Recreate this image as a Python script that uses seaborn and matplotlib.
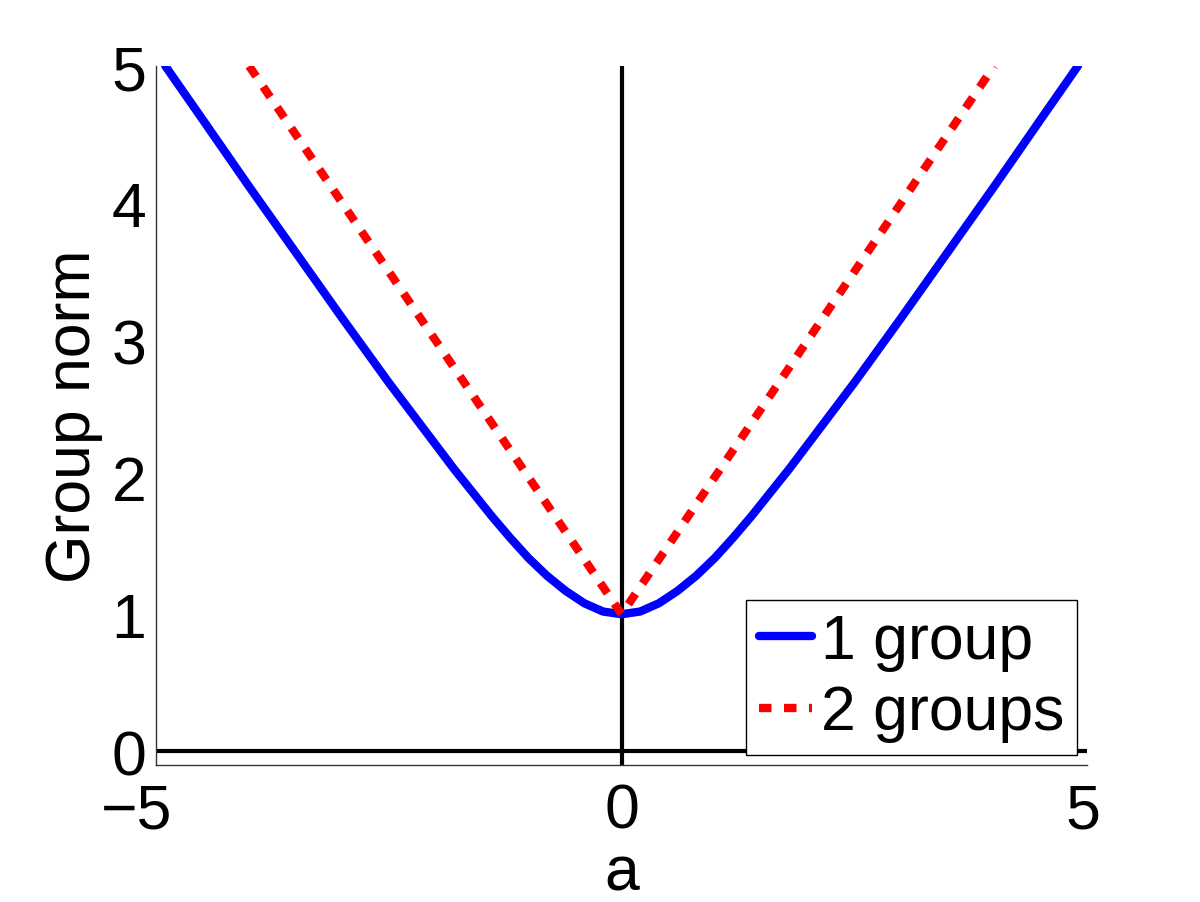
import numpy as np
import pandas as pd
import matplotlib
matplotlib.use('Agg')
import matplotlib.pyplot as plt
import matplotlib.transforms as mtransforms
import seaborn as sns

# values
a_one = [-4.9, -4.5, -4.0, -3.5, -3.0, -2.5, -2.0, -1.8, -1.6, -1.4, -1.2, -1.0, -0.8, -0.6, -0.4, -0.2, 0.0,
         0.2, 0.4, 0.6, 0.8, 1.0, 1.2, 1.4, 1.6, 1.8, 2.0, 2.5, 3.0, 3.5, 4.0, 4.5, 4.9]
norm_one = [5.0, 4.61, 4.12, 3.64, 3.16, 2.69, 2.24, 2.06, 1.89, 1.72, 1.56, 1.41, 1.28, 1.17, 1.08, 1.02, 1.0,
            1.02, 1.08, 1.17, 1.28, 1.41, 1.56, 1.72, 1.89, 2.06, 2.24, 2.69, 3.16, 3.64, 4.12, 4.61, 5.0]
a_two = [-4.0, 0.0, 4.0]
norm_two = [5.0, 1.0, 5.0]
series_names = ['1 group', '2 groups']

df1 = pd.DataFrame({'a': a_one, 'norm': norm_one})
df2 = pd.DataFrame({'a': a_two, 'norm': norm_two})

sns.set_style('white')
plt.rcParams['font.family'] = ['Liberation Sans', 'DejaVu Sans']
plt.rcParams['text.color'] = 'black'
plt.rcParams['axes.labelcolor'] = 'black'

fig = plt.figure(figsize=(12, 9.03), dpi=100)
ax = fig.add_axes([0.13, 0.1517, 0.776, 0.7741])

sns.lineplot(data=df1, x='a', y='norm', ax=ax, color='#0000ff', linewidth=6,
             label=series_names[0], sort=False, estimator=None)
sns.lineplot(data=df2, x='a', y='norm', ax=ax, color='#ff0000', linewidth=6,
             label=series_names[1], sort=False, estimator=None)
ax.lines[0].set_solid_joinstyle('round')
ax.lines[1].set_linestyle((0, (1.5, 1.5)))
ax.lines[1].set_dash_capstyle('butt')

ax.axhline(0, color='black', linewidth=3, zorder=1)
ax.axvline(0, color='black', linewidth=3, zorder=1)

ax.set_xlim(-5, 5)
ax.set_ylim(-0.1, 5)
ax.set_xticks([-5, 0, 5])
ax.set_xticklabels(['\u22125', '0', '5'])
ax.set_yticks([0, 1, 2, 3, 4, 5])

for s in ['top', 'right']:
    ax.spines[s].set_visible(False)
for s in ['left', 'bottom']:
    ax.spines[s].set_color('#333333')
    ax.spines[s].set_linewidth(1)

ax.tick_params(direction='in', length=7, width=1, labelsize=45, colors='black')
ax.tick_params(axis='x', pad=12)
ax.tick_params(axis='y', pad=7)

# MATLAB shifts the outer x labels inward a bit
offs = [-19, 0, -4]
for lab, dx in zip(ax.get_xticklabels(), offs):
    lab.set_transform(lab.get_transform() + mtransforms.ScaledTranslation(dx / 100, 0, fig.dpi_scale_trans))

ax.set_xlabel('a', fontsize=45, labelpad=2)
ax.set_ylabel('Group norm', fontsize=45, labelpad=6)

leg = ax.legend(loc='lower right', bbox_to_anchor=(1077 / 1200, (903 - 756) / 903),
                bbox_transform=fig.transFigure, fontsize=45, frameon=True, fancybox=False,
                edgecolor='black', framealpha=1, handlelength=0.85, handletextpad=0.15,
                labelspacing=0.2, borderpad=0.2, borderaxespad=0)
leg.get_frame().set_linewidth(1)
leg.get_lines()[1].set_linestyle((0, (1.5, 1.5)))
for t in leg.get_texts():
    t.set_color('black')

fig.savefig('out.png', dpi=100)
